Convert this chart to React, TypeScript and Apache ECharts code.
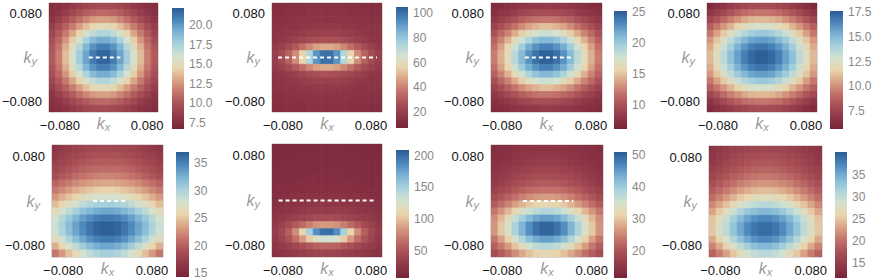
import React, { useEffect, useRef } from 'react';
import * as echarts from 'echarts';

// cell centres (kx left→right, ky top→bottom)
const KX = [-0.09375, -0.08125, -0.06875, -0.05625, -0.04375, -0.03125, -0.01875, -0.00625, 0.00625, 0.01875, 0.03125, 0.04375, 0.05625, 0.06875, 0.08125, 0.09375];
const KY = [0.09375, 0.08125, 0.06875, 0.05625, 0.04375, 0.03125, 0.01875, 0.00625, -0.00625, -0.01875, -0.03125, -0.04375, -0.05625, -0.06875, -0.08125, -0.09375];

const A1_VALUES = [
  [7.5,7.7,8.1,8.5,8.8,9.2,9.4,9.6,9.6,9.4,9.2,8.8,8.5,8.1,7.7,7.5],
  [7.8,8.2,8.7,9.3,9.9,10.4,10.8,11.0,11.0,10.8,10.4,9.9,9.3,8.7,8.2,7.8],
  [8.2,8.8,9.6,10.4,11.3,12.0,12.6,12.9,12.9,12.6,12.0,11.3,10.4,9.6,8.8,8.2],
  [8.7,9.6,10.6,11.7,12.8,13.8,14.6,15.0,15.0,14.6,13.8,12.8,11.7,10.6,9.6,8.7],
  [9.2,10.3,11.6,13.0,14.4,15.7,16.7,17.3,17.3,16.7,15.7,14.4,13.0,11.6,10.3,9.2],
  [9.7,11.0,12.5,14.2,16.0,17.5,18.7,19.3,19.3,18.7,17.5,16.0,14.2,12.5,11.0,9.7],
  [10.1,11.5,13.3,15.2,17.1,18.9,20.2,20.9,20.9,20.2,18.9,17.1,15.2,13.3,11.5,10.1],
  [10.3,11.8,13.7,15.7,17.8,19.6,21.0,21.8,21.8,21.0,19.6,17.8,15.7,13.7,11.8,10.3],
  [10.3,11.8,13.7,15.7,17.8,19.6,21.0,21.8,21.8,21.0,19.6,17.8,15.7,13.7,11.8,10.3],
  [10.1,11.5,13.3,15.2,17.1,18.9,20.2,20.9,20.9,20.2,18.9,17.1,15.2,13.3,11.5,10.1],
  [9.7,11.0,12.5,14.2,16.0,17.5,18.7,19.3,19.3,18.7,17.5,16.0,14.2,12.5,11.0,9.7],
  [9.2,10.3,11.6,13.0,14.4,15.7,16.7,17.3,17.3,16.7,15.7,14.4,13.0,11.6,10.3,9.2],
  [8.7,9.6,10.6,11.7,12.8,13.8,14.6,15.0,15.0,14.6,13.8,12.8,11.7,10.6,9.6,8.7],
  [8.2,8.8,9.6,10.4,11.3,12.0,12.6,12.9,12.9,12.6,12.0,11.3,10.4,9.6,8.8,8.2],
  [7.8,8.2,8.7,9.3,9.9,10.4,10.8,11.0,11.0,10.8,10.4,9.9,9.3,8.7,8.2,7.8],
  [7.5,7.7,8.1,8.5,8.8,9.2,9.4,9.6,9.6,9.4,9.2,8.8,8.5,8.1,7.7,7.5],
];

const A2_VALUES = [
  [12,12,13,13,13,14,14,14,14,14,14,13,13,13,12,12],
  [13,13,14,14,14,15,15,15,15,15,15,14,14,14,13,13],
  [14,14,15,15,16,16,16,16,16,16,16,16,15,15,14,14],
  [15,15,16,16,17,17,18,18,18,18,17,17,16,16,15,15],
  [15,16,17,18,19,20,21,21,21,21,20,19,18,17,16,15],
  [16,17,19,21,23,25,26,27,27,26,25,23,21,19,17,16],
  [18,21,25,30,36,41,46,48,48,46,41,36,30,25,21,18],
  [20,25,32,42,56,74,92,100,100,92,74,56,42,32,25,20],
  [20,25,32,42,56,74,92,100,100,92,74,56,42,32,25,20],
  [18,21,25,30,36,41,46,48,48,46,41,36,30,25,21,18],
  [16,17,19,21,23,25,26,27,27,26,25,23,21,19,17,16],
  [15,16,17,18,19,20,21,21,21,21,20,19,18,17,16,15],
  [15,15,16,16,17,17,18,18,18,18,17,17,16,16,15,15],
  [14,14,15,15,16,16,16,16,16,16,16,16,15,15,14,14],
  [13,13,14,14,14,15,15,15,15,15,15,14,14,14,13,13],
  [12,12,13,13,13,14,14,14,14,14,14,13,13,13,12,12],
];

const A3_VALUES = [
  [6.9,7.1,7.4,7.6,7.9,8.1,8.2,8.3,8.3,8.2,8.1,7.9,7.6,7.4,7.1,6.9],
  [7.4,7.8,8.2,8.6,9.1,9.4,9.7,9.8,9.8,9.7,9.4,9.1,8.6,8.2,7.8,7.4],
  [8.1,8.7,9.4,10.1,10.8,11.3,11.8,12.0,12.0,11.8,11.3,10.8,10.1,9.4,8.7,8.1],
  [9.0,9.9,10.9,11.9,12.9,13.8,14.4,14.8,14.8,14.4,13.8,12.9,11.9,10.9,9.9,9.0],
  [10.0,11.3,12.6,14.1,15.4,16.6,17.5,17.9,17.9,17.5,16.6,15.4,14.1,12.6,11.3,10.0],
  [11.0,12.6,14.3,16.1,17.8,19.3,20.4,21.0,21.0,20.4,19.3,17.8,16.1,14.3,12.6,11.0],
  [11.8,13.7,15.7,17.8,19.8,21.6,22.8,23.5,23.5,22.8,21.6,19.8,17.8,15.7,13.7,11.8],
  [12.3,14.3,16.5,18.7,20.9,22.8,24.2,24.9,24.9,24.2,22.8,20.9,18.7,16.5,14.3,12.3],
  [12.3,14.3,16.5,18.7,20.9,22.8,24.2,24.9,24.9,24.2,22.8,20.9,18.7,16.5,14.3,12.3],
  [11.8,13.7,15.7,17.8,19.8,21.6,22.8,23.5,23.5,22.8,21.6,19.8,17.8,15.7,13.7,11.8],
  [11.0,12.6,14.3,16.1,17.8,19.3,20.4,21.0,21.0,20.4,19.3,17.8,16.1,14.3,12.6,11.0],
  [10.0,11.3,12.6,14.1,15.4,16.6,17.5,17.9,17.9,17.5,16.6,15.4,14.1,12.6,11.3,10.0],
  [9.0,9.9,10.9,11.9,12.9,13.8,14.4,14.8,14.8,14.4,13.8,12.9,11.9,10.9,9.9,9.0],
  [8.1,8.7,9.4,10.1,10.8,11.3,11.8,12.0,12.0,11.8,11.3,10.8,10.1,9.4,8.7,8.1],
  [7.4,7.8,8.2,8.6,9.1,9.4,9.7,9.8,9.8,9.7,9.4,9.1,8.6,8.2,7.8,7.4],
  [6.9,7.1,7.4,7.6,7.9,8.1,8.2,8.3,8.3,8.2,8.1,7.9,7.6,7.4,7.1,6.9],
];

const A4_VALUES = [
  [6.1,6.5,6.8,7.2,7.5,7.7,7.9,8.0,8.0,7.9,7.7,7.5,7.2,6.8,6.5,6.1],
  [6.8,7.3,7.8,8.3,8.7,9.1,9.3,9.4,9.4,9.3,9.1,8.7,8.3,7.8,7.3,6.8],
  [7.7,8.3,9.0,9.6,10.1,10.6,10.9,11.0,11.0,10.9,10.6,10.1,9.6,9.0,8.3,7.7],
  [8.6,9.4,10.2,10.9,11.6,12.2,12.5,12.7,12.7,12.5,12.2,11.6,10.9,10.2,9.4,8.6],
  [9.4,10.4,11.4,12.3,13.1,13.7,14.2,14.4,14.4,14.2,13.7,13.1,12.3,11.4,10.4,9.4],
  [10.2,11.3,12.4,13.4,14.3,15.0,15.6,15.8,15.8,15.6,15.0,14.3,13.4,12.4,11.3,10.2],
  [10.7,11.9,13.1,14.2,15.2,16.0,16.6,16.9,16.9,16.6,16.0,15.2,14.2,13.1,11.9,10.7],
  [11.0,12.3,13.5,14.7,15.7,16.6,17.2,17.5,17.5,17.2,16.6,15.7,14.7,13.5,12.3,11.0],
  [11.0,12.3,13.5,14.7,15.7,16.6,17.2,17.5,17.5,17.2,16.6,15.7,14.7,13.5,12.3,11.0],
  [10.7,11.9,13.1,14.2,15.2,16.0,16.6,16.9,16.9,16.6,16.0,15.2,14.2,13.1,11.9,10.7],
  [10.2,11.3,12.4,13.4,14.3,15.0,15.6,15.8,15.8,15.6,15.0,14.3,13.4,12.4,11.3,10.2],
  [9.4,10.4,11.4,12.3,13.1,13.7,14.2,14.4,14.4,14.2,13.7,13.1,12.3,11.4,10.4,9.4],
  [8.6,9.4,10.2,10.9,11.6,12.2,12.5,12.7,12.7,12.5,12.2,11.6,10.9,10.2,9.4,8.6],
  [7.7,8.3,9.0,9.6,10.1,10.6,10.9,11.0,11.0,10.9,10.6,10.1,9.6,9.0,8.3,7.7],
  [6.8,7.3,7.8,8.3,8.7,9.1,9.3,9.4,9.4,9.3,9.1,8.7,8.3,7.8,7.3,6.8],
  [6.1,6.5,6.8,7.2,7.5,7.7,7.9,8.0,8.0,7.9,7.7,7.5,7.2,6.8,6.5,6.1],
];

const B1_VALUES = [
  [16.5,16.9,17.2,17.6,17.8,18.1,18.2,18.3,18.3,18.2,18.1,17.8,17.6,17.2,16.9,16.5],
  [16.9,17.3,17.7,18.1,18.4,18.7,18.9,19.0,19.0,18.9,18.7,18.4,18.1,17.7,17.3,16.9],
  [17.4,17.9,18.3,18.8,19.2,19.5,19.7,19.8,19.8,19.7,19.5,19.2,18.8,18.3,17.9,17.4],
  [18.0,18.5,19.1,19.6,20.1,20.5,20.7,20.8,20.8,20.7,20.5,20.1,19.6,19.1,18.5,18.0],
  [18.7,19.4,20.0,20.7,21.2,21.6,21.9,22.1,22.1,21.9,21.6,21.2,20.7,20.0,19.4,18.7],
  [20.2,21.0,21.6,22.3,22.8,23.2,23.5,23.7,23.7,23.5,23.2,22.8,22.3,21.6,21.0,20.2],
  [21.5,22.3,23.1,23.9,24.5,25.0,25.4,25.6,25.6,25.4,25.0,24.5,23.9,23.1,22.3,21.5],
  [22.9,24.0,24.9,25.8,26.6,27.2,27.6,27.8,27.8,27.6,27.2,26.6,25.8,24.9,24.0,22.9],
  [24.6,25.8,27.0,28.0,29.0,29.7,30.2,30.4,30.4,30.2,29.7,29.0,28.0,27.0,25.8,24.6],
  [26.3,27.7,29.1,30.3,31.4,32.2,32.8,33.1,33.1,32.8,32.2,31.4,30.3,29.1,27.7,26.3],
  [27.8,29.4,30.9,32.3,33.5,34.4,35.1,35.4,35.4,35.1,34.4,33.5,32.3,30.9,29.4,27.8],
  [28.4,30.1,31.8,33.3,34.6,35.7,36.4,36.8,36.8,36.4,35.7,34.6,33.3,31.8,30.1,28.4],
  [28.0,29.8,31.6,33.1,34.5,35.6,36.4,36.8,36.8,36.4,35.6,34.5,33.1,31.6,29.8,28.0],
  [26.4,28.2,29.9,31.6,33.0,34.2,35.0,35.4,35.4,35.0,34.2,33.0,31.6,29.9,28.2,26.4],
  [24.0,25.7,27.5,29.1,30.6,31.8,32.6,33.1,33.1,32.6,31.8,30.6,29.1,27.5,25.7,24.0],
  [21.4,23.0,24.7,26.3,27.8,29.1,29.9,30.4,30.4,29.9,29.1,27.8,26.3,24.7,23.0,21.4],
];

const B2_VALUES = [
  [12,13,13,13,14,14,14,14,14,14,14,14,13,13,13,12],
  [13,13,13,14,14,14,15,15,15,15,14,14,14,13,13,13],
  [13,14,14,14,15,15,15,15,15,15,15,15,14,14,14,13],
  [14,14,15,15,15,16,16,16,16,16,16,15,15,15,14,14],
  [15,15,16,16,16,17,17,17,17,17,17,16,16,16,15,15],
  [16,16,17,17,18,18,18,18,18,18,18,18,17,17,16,16],
  [17,18,18,19,19,19,20,20,20,20,19,19,19,18,18,17],
  [18,19,20,21,21,22,22,22,22,22,22,21,21,20,19,18],
  [20,21,23,24,25,25,26,26,26,26,25,25,24,23,21,20],
  [22,24,26,28,30,31,32,32,32,32,31,30,28,26,24,22],
  [25,29,32,35,38,41,44,45,45,44,41,38,35,32,29,25],
  [29,36,44,54,64,74,82,85,85,82,74,64,54,44,36,29],
  [32,42,58,80,110,150,185,200,200,185,150,110,80,58,42,32],
  [30,38,50,66,85,105,122,130,130,122,105,85,66,50,38,30],
  [26,30,35,41,47,53,58,60,60,58,53,47,41,35,30,26],
  [23,25,28,30,33,35,37,38,38,37,35,33,30,28,25,23],
];

const B3_VALUES = [
  [13.7,14.0,14.3,14.6,14.9,15.2,15.3,15.4,15.4,15.3,15.2,14.9,14.6,14.3,14.0,13.7],
  [14.0,14.3,14.7,15.1,15.5,15.7,15.9,16.0,16.0,15.9,15.7,15.5,15.1,14.7,14.3,14.0],
  [14.3,14.8,15.3,15.7,16.1,16.5,16.7,16.8,16.8,16.7,16.5,16.1,15.7,15.3,14.8,14.3],
  [14.8,15.4,16.0,16.5,17.0,17.4,17.7,17.9,17.9,17.7,17.4,17.0,16.5,16.0,15.4,14.8],
  [15.5,16.2,16.9,17.6,18.2,18.7,19.0,19.2,19.2,19.0,18.7,18.2,17.6,16.9,16.2,15.5],
  [16.1,17.0,17.9,18.8,19.6,20.3,20.8,21.0,21.0,20.8,20.3,19.6,18.8,17.9,17.0,16.1],
  [17.2,18.4,19.5,20.7,21.7,22.6,23.2,23.5,23.5,23.2,22.6,21.7,20.7,19.5,18.4,17.2],
  [18.8,20.3,21.8,23.3,24.7,25.8,26.6,27.1,27.1,26.6,25.8,24.7,23.3,21.8,20.3,18.8],
  [21.0,23.0,25.0,27.0,28.8,30.3,31.3,31.9,31.9,31.3,30.3,28.8,27.0,25.0,23.0,21.0],
  [23.8,26.4,29.1,31.7,34.0,36.0,37.4,38.1,38.1,37.4,36.0,34.0,31.7,29.1,26.4,23.8],
  [25.8,29.1,32.7,36.2,39.4,42.1,44.0,45.0,45.0,44.0,42.1,39.4,36.2,32.7,29.1,25.8],
  [26.4,30.4,34.6,38.9,42.9,46.3,48.8,50.1,50.1,48.8,46.3,42.9,38.9,34.6,30.4,26.4],
  [26.4,30.4,34.6,38.9,42.9,46.3,48.8,50.1,50.1,48.8,46.3,42.9,38.9,34.6,30.4,26.4],
  [23.8,27.3,31.0,34.9,38.5,41.6,43.8,45.0,45.0,43.8,41.6,38.5,34.9,31.0,27.3,23.8],
  [21.3,24.1,27.0,30.1,32.9,35.4,37.1,38.1,38.1,37.1,35.4,32.9,30.1,27.0,24.1,21.3],
  [19.1,21.2,23.4,25.8,27.9,29.8,31.1,31.9,31.9,31.1,29.8,27.9,25.8,23.4,21.2,19.1],
];

const B4_VALUES = [
  [14.1,14.6,15.0,15.4,15.8,16.1,16.3,16.4,16.4,16.3,16.1,15.8,15.4,15.0,14.6,14.1],
  [14.5,15.0,15.5,16.0,16.4,16.8,17.0,17.2,17.2,17.0,16.8,16.4,16.0,15.5,15.0,14.5],
  [14.9,15.5,16.1,16.7,17.2,17.6,17.9,18.1,18.1,17.9,17.6,17.2,16.7,16.1,15.5,14.9],
  [15.5,16.1,16.8,17.5,18.1,18.6,19.0,19.2,19.2,19.0,18.6,18.1,17.5,16.8,16.1,15.5],
  [16.1,17.0,17.8,18.6,19.3,19.9,20.4,20.6,20.6,20.4,19.9,19.3,18.6,17.8,17.0,16.1],
  [17.3,18.2,19.2,20.1,21.0,21.6,22.1,22.3,22.3,22.1,21.6,21.0,20.1,19.2,18.2,17.3],
  [18.4,19.6,20.8,21.9,22.9,23.7,24.3,24.6,24.6,24.3,23.7,22.9,21.9,20.8,19.6,18.4],
  [19.8,21.2,22.7,24.0,25.3,26.2,26.9,27.3,27.3,26.9,26.2,25.3,24.0,22.7,21.2,19.8],
  [21.5,23.2,24.9,26.6,28.1,29.3,30.1,30.6,30.6,30.1,29.3,28.1,26.6,24.9,23.2,21.5],
  [23.2,25.3,27.4,29.3,31.1,32.5,33.5,34.0,34.0,33.5,32.5,31.1,29.3,27.4,25.3,23.2],
  [24.9,27.2,29.6,31.8,33.8,35.5,36.6,37.2,37.2,36.6,35.5,33.8,31.8,29.6,27.2,24.9],
  [25.1,27.7,30.4,32.9,35.2,37.1,38.4,39.1,39.1,38.4,37.1,35.2,32.9,30.4,27.7,25.1],
  [25.1,27.7,30.4,32.9,35.2,37.1,38.4,39.1,39.1,38.4,37.1,35.2,32.9,30.4,27.7,25.1],
  [23.4,25.9,28.4,31.0,33.2,35.1,36.5,37.2,37.2,36.5,35.1,33.2,31.0,28.4,25.9,23.4],
  [21.2,23.4,25.8,28.1,30.2,32.0,33.3,34.0,34.0,33.3,32.0,30.2,28.1,25.8,23.4,21.2],
  [19.0,20.9,23.0,25.1,27.0,28.7,29.9,30.5,30.5,29.9,28.7,27.0,25.1,23.0,20.9,19.0],
];

const PANEL_NAMES = ['a1', 'a2', 'a3', 'a4', 'b1', 'b2', 'b3', 'b4'];
const PANEL_VALUES = [A1_VALUES, A2_VALUES, A3_VALUES, A4_VALUES, B1_VALUES, B2_VALUES, B3_VALUES, B4_VALUES];
const CBAR_MIN = [6.7, 7, 6.1, 5.7, 14.3, 7, 11.6, 11.6];
const CBAR_MAX = [22.2, 105, 25.2, 17.6, 37, 209, 51, 40.2];
const CBAR_TICKS = [
  [7.5, 10, 12.5, 15, 17.5, 20],
  [20, 40, 60, 80, 100],
  [10, 15, 20, 25],
  [7.5, 10, 12.5, 15, 17.5],
  [15, 20, 25, 30, 35],
  [50, 100, 150, 200],
  [20, 30, 40, 50],
  [15, 20, 25, 30, 35],
];
const CBAR_DECIMALS = [1, 0, 0, 1, 0, 0, 0, 0];
const DASH_KX: (number[] | null)[] = [[-0.027, 0.031], [-0.089, 0.091], [-0.039, 0.048], null, [-0.026, 0.032], [-0.088, 0.09], [-0.043, 0.047], null];
const DASH_KY = [0, 0, 0, 0, 0, 0, 0, 0];
const AXIS_TICKS = [-0.08, 0.08];
const K_RANGE = [-0.1, 0.1];

// ---- layout / style ----
const PLOTS = [
  { l: 49, t: 3, w: 109, h: 109 },
  { l: 272, t: 3, w: 110, h: 109 },
  { l: 491, t: 3, w: 111, h: 109 },
  { l: 707, t: 3, w: 110, h: 109 },
  { l: 52, t: 145, w: 111, h: 112 },
  { l: 272, t: 144, w: 110, h: 113 },
  { l: 491, t: 145, w: 112, h: 112 },
  { l: 709, t: 146, w: 113, h: 111 },
];
const CBARS = [
  { l: 172, t: 8, w: 12, h: 121 },
  { l: 396, t: 7, w: 12, h: 121 },
  { l: 614, t: 11, w: 13, h: 118 },
  { l: 830, t: 11, w: 13, h: 118 },
  { l: 176, t: 152, w: 13, h: 125 },
  { l: 396, t: 150, w: 13, h: 128 },
  { l: 614, t: 152, w: 13, h: 126 },
  { l: 835, t: 152, w: 12, h: 126 },
];
const COLORS = ['#782439', '#8f3747', '#a84f56', '#c2716a', '#d9a184', '#e9d5ad', '#d3e2cf', '#a9d2dd', '#7cb3d4', '#4b86bb', '#2b5b95'];
const FONT = '"Liberation Sans", Arial, Helvetica, sans-serif';
const CELL = 0.0125;

const fmtK = (v: number) => (v < 0 ? '\u2212' : '') + Math.abs(v).toFixed(3);

const nameRich = {
  k: { fontSize: 16, fontStyle: 'italic', color: '#9a9a9a', fontFamily: FONT, lineHeight: 18 },
  s: { fontSize: 11, fontStyle: 'italic', color: '#9a9a9a', fontFamily: FONT, lineHeight: 8, verticalAlign: 'bottom' },
};

function buildOption() {
  const grid: any[] = [];
  const xAxis: any[] = [];
  const yAxis: any[] = [];
  const series: any[] = [];
  const visualMap: any[] = [];
  const graphic: any[] = [];
  const stops = COLORS.map((c, i) => ({ offset: 1 - i / (COLORS.length - 1), color: c }));

  PANEL_NAMES.forEach((name, i) => {
    const p = PLOTS[i];
    const c = CBARS[i];
    const isTop = i < 4;
    const gi = grid.length;
    grid.push({ left: p.l, top: p.t, width: p.w, height: p.h, show: true, borderColor: '#b4b4b4', borderWidth: 1, backgroundColor: 'transparent', outerBoundsMode: 'none' });
    xAxis.push({
      gridIndex: gi, type: 'value', min: K_RANGE[0], max: K_RANGE[1], position: 'bottom',
      axisLine: { show: false }, splitLine: { show: false },
      axisTick: { show: isTop, customValues: AXIS_TICKS, length: 3, lineStyle: { color: '#666' } },
      axisLabel: { customValues: AXIS_TICKS, formatter: fmtK, color: '#111', fontSize: 13, fontFamily: FONT, margin: 7 },
      name: '{k|k}{s|x}', nameLocation: 'middle', nameGap: 2, nameMoveOverlap: false, nameTextStyle: { rich: nameRich },
    });
    yAxis.push({
      gridIndex: gi, type: 'value', min: K_RANGE[0], max: K_RANGE[1], position: 'left',
      axisLine: { show: false }, splitLine: { show: false },
      axisTick: { show: isTop, customValues: AXIS_TICKS, length: 4, lineStyle: { color: '#666' } },
      axisLabel: { customValues: AXIS_TICKS, formatter: fmtK, color: '#111', fontSize: 13, fontFamily: FONT, margin: 7 },
      name: '{k|k}{s|y}', nameLocation: 'middle', nameRotate: 0, nameGap: 12, nameMoveOverlap: false, nameTextStyle: { rich: nameRich },
    });
    const data: number[][] = [];
    PANEL_VALUES[i].forEach((row, r) => row.forEach((v, col) => data.push([KX[col], KY[r], v])));
    const si = series.length;
    series.push({
      type: 'custom', xAxisIndex: gi, yAxisIndex: gi, data, clip: true, silent: true,
      encode: { x: 0, y: 1 },
      renderItem: (_params: any, api: any) => {
        const x = api.value(0);
        const y = api.value(1);
        const pt = api.coord([x - CELL / 2, y + CELL / 2]);
        const sz = api.size([CELL, CELL]);
        const col = api.visual('color');
        return { type: 'rect', shape: { x: pt[0], y: pt[1], width: sz[0], height: sz[1] }, style: { fill: col, stroke: col, lineWidth: 0.8 } };
      },
    });
    visualMap.push({ type: 'continuous', show: false, seriesIndex: si, dimension: 2, min: CBAR_MIN[i], max: CBAR_MAX[i], inRange: { color: COLORS } });
    const dk = DASH_KX[i];
    if (dk) {
      series.push({
        type: 'line', xAxisIndex: gi, yAxisIndex: gi, silent: true, symbol: 'none', z: 5,
        data: [[dk[0], DASH_KY[i]], [dk[1], DASH_KY[i]]],
        lineStyle: { color: '#ffffff', width: 2, type: [4, 3] },
      });
    }
    graphic.push({
      type: 'text', x: p.l + 3, y: p.t + 4, silent: true,
      style: { text: name, fontSize: 15, fontFamily: FONT, fill: '#111', verticalAlign: 'top' },
    });

    // colour bar
    const ci = grid.length;
    grid.push({ left: c.l, top: c.t, width: c.w, height: c.h, show: false, outerBoundsMode: 'none' });
    xAxis.push({ gridIndex: ci, type: 'value', min: 0, max: 1, show: false });
    const dec = CBAR_DECIMALS[i];
    yAxis.push({
      gridIndex: ci, type: 'value', min: CBAR_MIN[i], max: CBAR_MAX[i], position: 'right',
      axisLine: { show: false }, splitLine: { show: false },
      axisTick: { show: true, customValues: CBAR_TICKS[i], length: 3, lineStyle: { color: '#aaa' } },
      axisLabel: { customValues: CBAR_TICKS[i], formatter: (v: number) => v.toFixed(dec), color: '#888', fontSize: 12, fontFamily: FONT, margin: 5 },
    });
    series.push({
      type: 'custom', xAxisIndex: ci, yAxisIndex: ci, silent: true,
      data: [[0, CBAR_MIN[i], CBAR_MAX[i]]], encode: { x: 0, y: [1, 2] },
      renderItem: (_params: any, api: any) => {
        const a = api.coord([0, api.value(2)]);
        const b = api.coord([1, api.value(1)]);
        return {
          type: 'rect', shape: { x: a[0], y: a[1], width: b[0] - a[0], height: b[1] - a[1] },
          style: { fill: new echarts.graphic.LinearGradient(0, 0, 0, 1, stops.slice().reverse()) },
        };
      },
    });
  });

  return { animation: false, backgroundColor: '#ffffff', grid, xAxis, yAxis, series, visualMap, graphic };
}

export default function App() {
  const ref = useRef<HTMLDivElement>(null);
  useEffect(() => {
    if (!ref.current) return;
    const chart = echarts.init(ref.current, null, { renderer: 'svg' });
    chart.setOption(buildOption() as any);
    return () => chart.dispose();
  }, []);
  return <div ref={ref} style={{ position: 'fixed', left: 0, top: 0, width: 872, height: 279 }} />;
}
